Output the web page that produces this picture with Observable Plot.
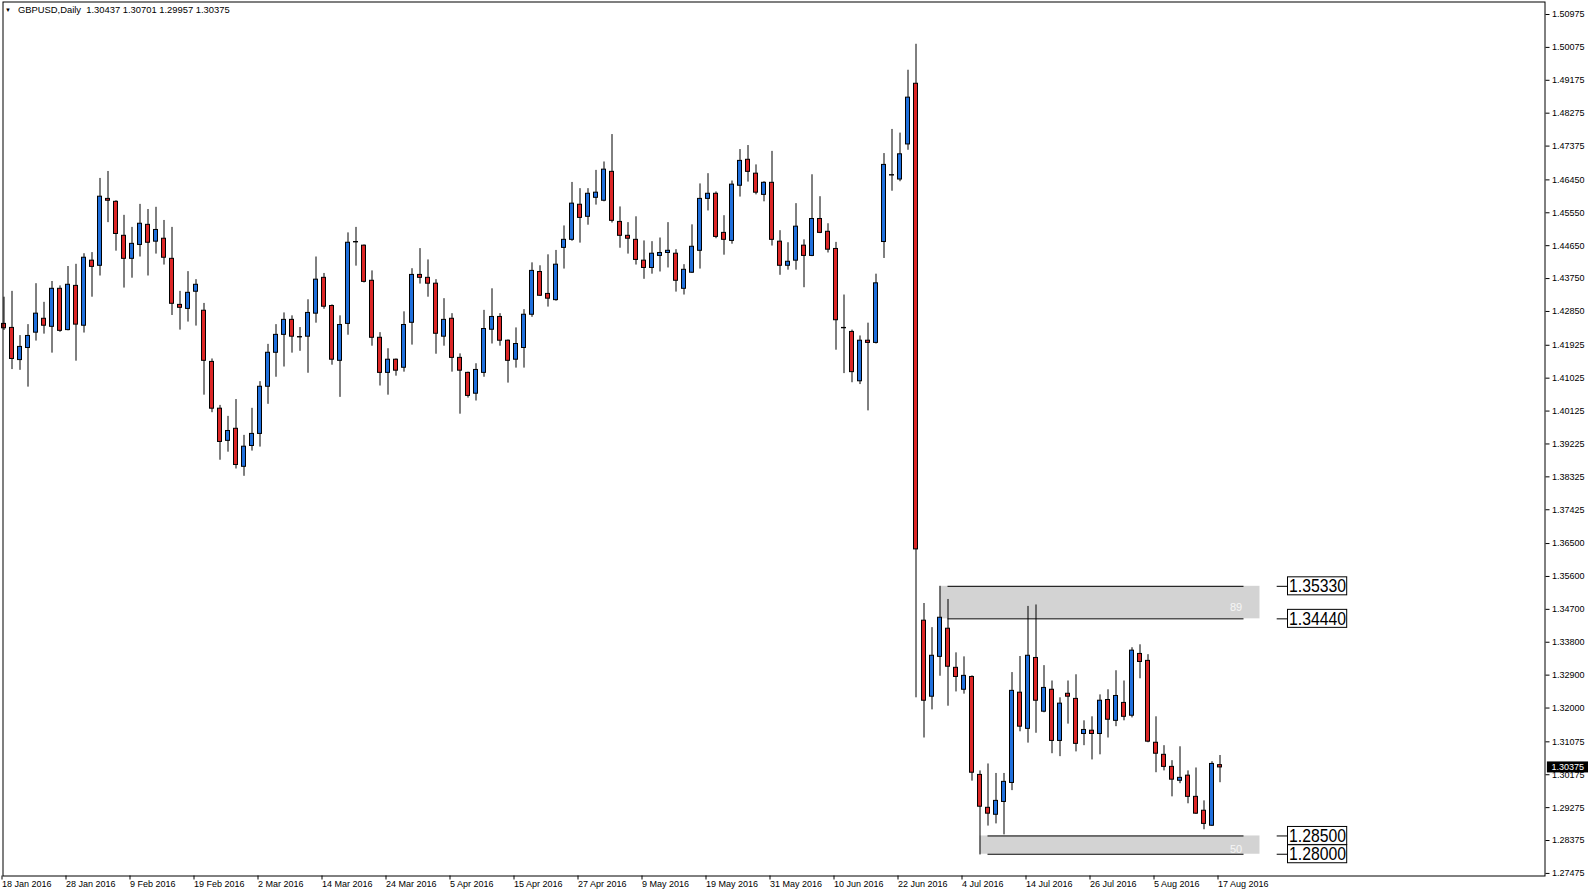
<!DOCTYPE html>
<html><head><meta charset="utf-8">
<script src="https://cdn.jsdelivr.net/npm/d3@7"></script>
<script src="https://cdn.jsdelivr.net/npm/@observablehq/plot@0.6"></script>
<style>html,body{margin:0;padding:0;background:#fff;} svg{display:block;}</style>
</head><body>
<script>
// ---- data ----
const header = "GBPUSD,Daily  1.30437 1.30701 1.29957 1.30375";
const opens = [1.4251,1.4240,1.4152,1.4185,1.4227,1.4265,1.4243,1.4347,1.4234,1.4355,
1.4246,1.4424,1.4410,1.4593,1.4585,1.4492,1.4429,1.4467,1.4522,1.4476,
1.4484,1.4429,1.4303,1.4292,1.4339,1.4287,1.4147,1.4019,1.3931,1.3964,
1.3860,1.3917,1.3950,1.4079,1.4172,1.4221,1.4262,1.4215,1.4216,1.4279,
1.4377,1.4300,1.4150,1.4251,1.4474,1.4465,1.4369,1.4213,1.4117,1.4153,
1.4131,1.4254,1.4385,1.4377,1.4361,1.4216,1.4265,1.4158,1.4117,1.4060,
1.4117,1.4235,1.4270,1.4205,1.4153,1.4185,1.4276,1.4393,1.4333,1.4316,
1.4459,1.4481,1.4577,1.4544,1.4596,1.4588,1.4667,1.4530,1.4492,1.4481,
1.4424,1.4404,1.4437,1.4445,1.4443,1.4347,1.4391,1.4451,1.4593,1.4607,
1.4500,1.4478,1.4629,1.4700,1.4662,1.4604,1.4637,1.4476,1.4410,1.4424,
1.4465,1.4437,1.4538,1.4503,1.4456,1.4239,1.4229,1.4094,1.4205,1.4199,
1.4475,1.4657,1.4646,1.4742,1.4908,1.3439,1.3231,1.3340,1.3417,1.3310,
1.3250,1.3285,1.3017,1.2927,1.2908,1.2943,1.2995,1.3242,1.3143,1.3337,
1.3190,1.3250,1.3110,1.3239,1.3225,1.3129,1.3138,1.3129,1.3222,1.3165,
1.3214,1.3179,1.3348,1.3329,1.3105,1.3072,1.3039,1.3001,1.3015,1.2957,
1.2919,1.2878,1.30437];
const highs = [1.4324,1.4340,1.4219,1.4249,1.4361,1.4310,1.4367,1.4355,1.4408,1.4414,
1.4443,1.4446,1.4649,1.4668,1.4588,1.4548,1.4515,1.4578,1.4564,1.4570,
1.4534,1.4515,1.4340,1.4394,1.4372,1.4307,1.4155,1.4028,1.3998,1.4044,
1.3946,1.4020,1.4093,1.4195,1.4249,1.4281,1.4273,1.4241,1.4317,1.4434,
1.4389,1.4303,1.4273,1.4500,1.4515,1.4467,1.4396,1.4227,1.4183,1.4155,
1.4284,1.4402,1.4457,1.4426,1.4372,1.4320,1.4279,1.4169,1.4119,1.4142,
1.4288,1.4347,1.4279,1.4207,1.4240,1.4290,1.4418,1.4410,1.4440,1.4452,
1.4519,1.4638,1.4621,1.4621,1.4671,1.4694,1.4769,1.4571,1.4528,1.4544,
1.4478,1.4476,1.4486,1.4528,1.4454,1.4413,1.4522,1.4634,1.4662,1.4612,
1.4547,1.4642,1.4728,1.4739,1.4686,1.4640,1.4723,1.4506,1.4473,1.4580,
1.4481,1.4659,1.4599,1.4525,1.4474,1.4330,1.4234,1.4218,1.4253,1.4387,
1.4717,1.4783,1.4773,1.4945,1.5016,1.3486,1.3420,1.3533,1.3497,1.3351,
1.3340,1.3288,1.3028,1.3047,1.3021,1.3021,1.3297,1.3341,1.3478,1.3482,
1.3316,1.3274,1.3228,1.3274,1.3291,1.3165,1.3176,1.3236,1.3250,1.3302,
1.3274,1.3365,1.3373,1.3346,1.3176,1.3097,1.3056,1.3094,1.3028,1.3036,
1.2946,1.3053,1.30701];
const lows = [1.4233,1.4126,1.4124,1.4078,1.4204,1.4223,1.4171,1.4228,1.4232,1.4149,
1.4226,1.4324,1.4382,1.4528,1.4450,1.4349,1.4376,1.4434,1.4382,1.4442,
1.4412,1.4274,1.4234,1.4256,1.4245,1.4056,1.4008,1.3878,1.3900,1.3854,
1.3834,1.3903,1.3914,1.4031,1.4105,1.4133,1.4171,1.4176,1.4116,1.4253,
1.4291,1.4138,1.4050,1.4220,1.4409,1.4363,1.4190,1.4081,1.4056,1.4108,
1.4119,1.4193,1.4360,1.4324,1.4168,1.4190,1.4119,1.4004,1.4048,1.4040,
1.4105,1.4196,1.4190,1.4089,1.4130,1.4130,1.4269,1.4326,1.4297,1.4313,
1.4401,1.4477,1.4472,1.4521,1.4576,1.4585,1.4527,1.4458,1.4442,1.4412,
1.4373,1.4387,1.4393,1.4404,1.4338,1.4330,1.4389,1.4401,1.4560,1.4484,
1.4439,1.4469,1.4598,1.4639,1.4604,1.4585,1.4464,1.4384,1.4398,1.4398,
1.4350,1.4435,1.4498,1.4445,1.4179,1.4115,1.4090,1.4085,1.4013,1.4196,
1.4430,1.4614,1.4640,1.4726,1.3228,1.3118,1.3195,1.3287,1.3205,1.3244,
1.3238,1.3000,1.2798,1.2877,1.2883,1.2853,1.2974,1.3135,1.3104,1.3131,
1.3187,1.3075,1.3067,1.3156,1.3080,1.3097,1.3058,1.3072,1.3118,1.3149,
1.3165,1.3173,1.3280,1.3105,1.3023,1.3028,1.2957,1.2993,1.2938,1.2909,
1.2867,1.2876,1.29957];
const closes = [1.4239,1.4155,1.4188,1.4218,1.4279,1.4246,1.4347,1.4232,1.4358,1.4249,
1.4432,1.4407,1.4599,1.4588,1.4497,1.4429,1.4470,1.4525,1.4473,1.4508,
1.4432,1.4306,1.4295,1.4336,1.4358,1.4150,1.4019,1.3928,1.3958,1.3865,
1.3915,1.3950,1.4079,1.4172,1.4221,1.4262,1.4216,1.4214,1.4281,1.4372,
1.4298,1.4153,1.4248,1.4473,1.4475,1.4366,1.4213,1.4117,1.4153,1.4123,
1.4248,1.4385,1.4377,1.4361,1.4224,1.4262,1.4158,1.4123,1.4054,1.4125,
1.4237,1.4270,1.4205,1.4150,1.4196,1.4276,1.4396,1.4328,1.4320,1.4413,
1.4481,1.4580,1.4541,1.4607,1.4610,1.4673,1.4533,1.4492,1.4484,1.4426,
1.4404,1.4443,1.4445,1.4451,1.4369,1.4399,1.4462,1.4593,1.4607,1.4489,
1.4481,1.4632,1.4697,1.4667,1.4610,1.4637,1.4481,1.4410,1.4421,1.4517,
1.4437,1.4538,1.4500,1.4454,1.4261,1.4240,1.4119,1.4205,1.4199,1.4362,
1.4686,1.4658,1.4715,1.4870,1.3634,1.3220,1.3343,1.3447,1.3313,1.3285,
1.3288,1.3023,1.2930,1.2911,1.2946,1.2998,1.3247,1.3149,1.3343,1.3220,
1.3255,1.3110,1.3212,1.3231,1.3102,1.3140,1.3129,1.3220,1.3168,1.3233,
1.3176,1.3357,1.3326,1.3108,1.3075,1.3039,1.3004,1.3009,1.2957,1.2911,
1.2883,1.3047,1.30375];

const xTickIndex = [0,8,16,24,32,40,48,56,64,72,80,88,96,104,112,120,128,136,144,152];
const xTickLabels = ["18 Jan 2016","28 Jan 2016","9 Feb 2016","19 Feb 2016","2 Mar 2016",
"14 Mar 2016","24 Mar 2016","5 Apr 2016","15 Apr 2016","27 Apr 2016","9 May 2016",
"19 May 2016","31 May 2016","10 Jun 2016","22 Jun 2016","4 Jul 2016","14 Jul 2016",
"26 Jul 2016","5 Aug 2016","17 Aug 2016"];
const yTickValues = [1.50975,1.50075,1.49175,1.48275,1.47375,1.46450,1.45550,1.44650,
1.43750,1.42850,1.41925,1.41025,1.40125,1.39225,1.38325,1.37425,1.36500,1.35600,
1.34700,1.33800,1.32900,1.32000,1.31075,1.30175,1.29275,1.28375,1.27475];

const zoneHigh  = [1.3533, 1.2850];
const zoneLow   = [1.3444, 1.2800];
const zoneStart = [117, 122];
const zoneText  = ["89", "50"];
const zoneTextPrice = [1.3475, 1.2812];
const levelValues = [1.35330, 1.34440, 1.28500, 1.28000];
const lastClose = 1.30375;

// ---- build ----
const RED = "#dc2626", BLUE = "#1f6fdc";
const candles = opens.map((o, i) => ({i, open: o, high: highs[i], low: lows[i], close: closes[i]}));
const zones = zoneHigh.map((h, k) => ({hi: h, lo: zoneLow[k], start: zoneStart[k], text: zoneText[k], tp: zoneTextPrice[k]}));
const zoneLines = zones.flatMap(z => [{y: z.hi, s: z.start + 1}, {y: z.lo, s: z.start + 1}]);
const labelMap = new Map(xTickIndex.map((d, k) => [d, xTickLabels[k]]));
const X0 = -0.125, X1 = 192.625;
const ZONE_END = 157, LINE_END = 155;

const chart = Plot.plot({
  width: 1588, height: 896,
  marginLeft: 2.5, marginRight: 43.5, marginTop: 1.5, marginBottom: 20.5,
  style: {fontFamily: "'Liberation Sans', Arial, sans-serif", fontSize: "9px", background: "#fff", color: "#000", overflow: "visible"},
  x: {type: "linear", domain: [X0, X1], axis: null},
  y: {type: "linear", domain: [1.274045, 1.51317], axis: null},
  marks: [
    Plot.rect(zones, {x1: "start", x2: ZONE_END, y1: "lo", y2: "hi", fill: "#d3d3d3"}),
    Plot.ruleY(zoneLines, {y: "y", x1: "s", x2: LINE_END, stroke: "#000"}),
    Plot.text(zones, {x: 154, y: "tp", text: "text", fill: "#f6f6f6", fontSize: 11}),
    Plot.ruleX(candles, {x: "i", y1: "low", y2: "high", stroke: "#000"}),
    Plot.rect(candles, {x1: d => d.i - 0.25, x2: d => d.i + 0.25, y1: "open", y2: "close",
      fill: d => d.close > d.open ? BLUE : RED, stroke: "#000", strokeWidth: 1}),
    Plot.ruleY(levelValues, {y: d => d, x1: 159.15, x2: 160.5, stroke: "#000"}),
    Plot.rect(levelValues, {x1: 160.5, x2: 167.9, y1: d => d, y2: d => d, insetTop: -9, insetBottom: -9, fill: "#fff", stroke: "#000"}),
    Plot.text(levelValues, {x: 164.2, y: d => d, text: d => d.toFixed(5), fontSize: 19,
      fontFamily: "'Liberation Sans Narrow', 'Liberation Sans', Arial, sans-serif", textAnchor: "middle", className: "lvl"}),
    Plot.frame({stroke: "#000"}),
    Plot.axisY(yTickValues, {anchor: "right", tickSize: 4, tickPadding: 3, tickFormat: d => d.toFixed(5), label: null, fontSize: 9}),
    Plot.axisX(xTickIndex, {anchor: "bottom", tickSize: 4, tickPadding: 1, tickFormat: d => labelMap.get(d), textAnchor: "start", dx: -2, label: null, fontSize: 9}),
    Plot.rect([lastClose], {x1: X1 + 0.3, x2: X1 + 5.6, y1: d => d, y2: d => d, insetTop: -5.5, insetBottom: -5.5, fill: "#000"}),
    Plot.text([lastClose], {x: X1 + 0.3, y: d => d, text: d => d.toFixed(5), fill: "#fff", textAnchor: "start", dx: 4, fontSize: 9}),
    Plot.text([header], {frameAnchor: "top-left", dx: 15, dy: 4.5, textAnchor: "start", lineAnchor: "top", fontSize: 9.4}),
    Plot.text(["\u25BC"], {frameAnchor: "top-left", dx: 5, dy: 6, textAnchor: "middle", lineAnchor: "top", fontSize: 6})
  ]
});
document.body.appendChild(chart);
d3.select(chart).selectAll(".lvl text").attr("textLength", 57).attr("lengthAdjust", "spacingAndGlyphs");
</script>
</body></html>
